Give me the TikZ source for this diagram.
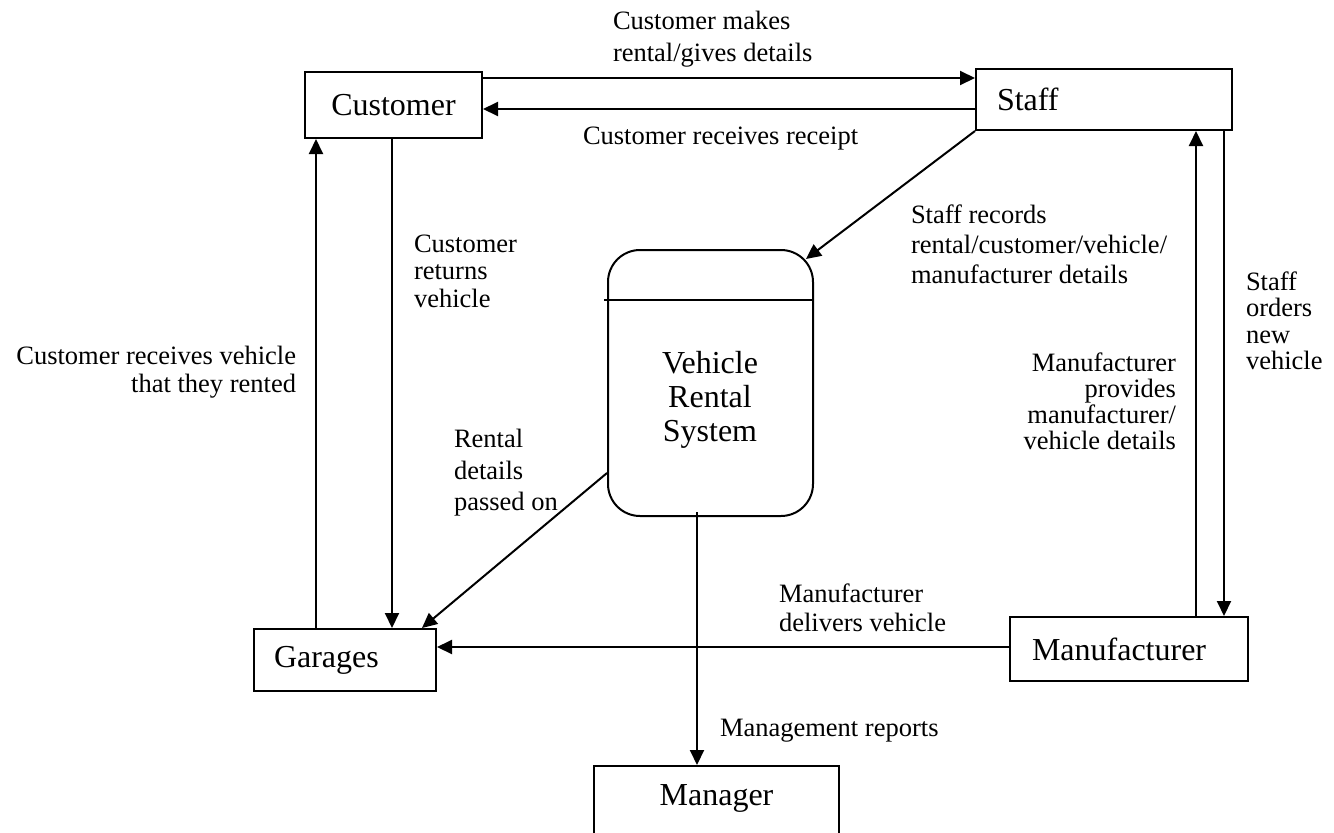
\documentclass[tikz,border=0pt]{standalone}
\usepackage{fontspec}
\setmainfont{Liberation Serif}
\usetikzlibrary{arrows.meta,calc}
\newcommand\entfont{\fontsize{32}{34}\selectfont}
\tikzset{dfd/.style={x=1pt,y=-1pt,line width=2pt}}
\tikzset{ent/.style={draw,line width=2pt,inner sep=0pt,font=\entfont},
         store/.style={draw,line width=2pt,rounded corners=32pt,minimum width=205,minimum height=266},
         flow/.style={line width=2pt,-{Triangle[length=15pt,width=14pt]}},
         lbl/.style={inner sep=0pt,font=\fontsize{26.5}{#1}\selectfont,align=left},
         lbl/.default=31}

\begin{document}
\begin{tikzpicture}[dfd]
    \useasboundingbox (0,0) rectangle (1334,833);
    % entities
    \node[ent,minimum width=177,minimum height=66] (customer) at (393.5,105) {Customer};
    \node[ent,text width=214,inner xsep=21,minimum height=61,align=left] (staff) at (1104,99.5) {Staff};
    \node[ent,text width=142,inner xsep=20,minimum height=62,align=left] (garages) at (345,660) {Garages};
    \node[ent,text width=194,inner xsep=22,minimum height=64,align=left] (manufacturer) at (1129,649) {Manufacturer};
    \node[ent,anchor=north,minimum width=245,text depth=36pt,inner ysep=19pt] (manager) at (716.5,765) {Manager};
    % data store
    \node[store] (vrs) at (710.5,383) {};
    \node[font=\entfont,align=center,inner sep=0pt] (vrstxt) at (710,400) {Vehicle\\Rental\\System};
    \draw ($(vrs.north west)+(-3,51)$) -- ($(vrs.north east)+(0,51)$);
    % flows
    \draw[flow] ([yshift=27pt]customer.east) -- ([yshift=27pt]customer.east -| staff.west);
    \draw[flow] ([yshift=-4pt]customer.east -| staff.west) -- ([yshift=-4pt]customer.east);
    \draw[flow] (staff.south west) -- ($(vrs.north east)+(-8,10)$);
    \draw[flow] ([xshift=-1.5pt]customer.south) -- ([xshift=-1.5pt]customer.south |- garages.north);
    \draw[flow] ([xshift=-29pt]garages.north) -- ([xshift=-29pt]garages.north |- customer.south);
    \draw[flow] ([yshift=-90pt]vrs.west) -- ([xshift=77pt]garages.north);
    \draw[flow] ([yshift=2pt]manufacturer.west) -- ([yshift=2pt]manufacturer.west -| garages.east);
    \draw[flow] ([xshift=-13.5pt,yshift=5pt]vrs.south) -- ([xshift=-13.5pt]vrs.south |- manager.north);
    \draw[flow] ([xshift=92pt]staff.south |- manufacturer.north) -- ([xshift=92pt]staff.south);
    \draw[flow] ([xshift=120pt]staff.south) -- ([xshift=120pt]staff.south |- manufacturer.north);
    % labels
    \node[lbl=31.5,anchor=west] (lblmakes) at (612,39) {Customer makes\\rental/gives details};
    \node[lbl,anchor=west] (lblreceipt) at (582,139) {Customer receives receipt};
    \node[lbl=30,anchor=west] (lblrecords) at (910,244) {Staff records\\rental/customer/vehicle/\\manufacturer details};
    \node[lbl=27.5,anchor=west] (lblreturns) at (413,271) {Customer\\returns\\vehicle};
    \node[lbl=28,anchor=east,align=right] (lblgets) at (297,372) {Customer receives vehicle\\that they rented};
    \node[lbl=26.5,anchor=west] (lblorders) at (1245,321) {Staff\\orders\\new\\vehicle};
    \node[lbl=26,anchor=east,align=right] (lblprovides) at (1177,401) {Manufacturer\\provides\\manufacturer/\\vehicle details};
    \node[lbl=31.5,anchor=west] (lblpassed) at (453,473) {Rental\\details\\passed on};
    \node[lbl=29,anchor=west] (lbldelivers) at (778,608) {Manufacturer\\delivers vehicle};
    \node[lbl,anchor=west] (lblreports) at (719,731) {Management reports};
\end{tikzpicture}
\end{document}
